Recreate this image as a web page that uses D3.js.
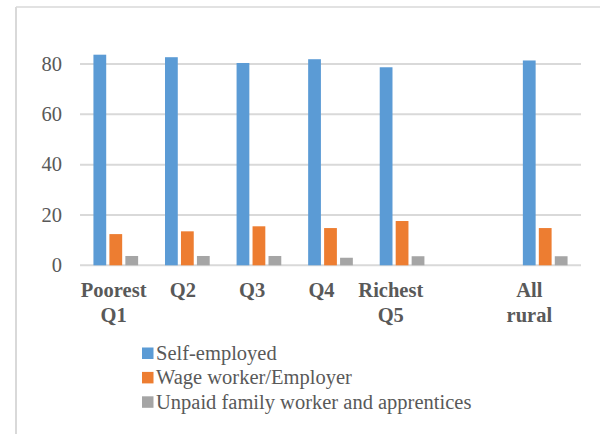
<!DOCTYPE html>
<html>
<head>
<meta charset="utf-8">
<script src="https://cdn.jsdelivr.net/npm/d3@7"></script>
<style>
  html, body { margin: 0; padding: 0; background: #fff; }
  svg { display: block; }
</style>
</head>
<body>
<svg id="chart" width="600" height="434"></svg>
<script>
// Employment status by wealth quintile (rural), percent
const categories = ["q1", "q2", "q3", "q4", "q5", "gap", "all"];
const categoryLabels = [["Poorest", "Q1"], ["Q2"], ["Q3"], ["Q4"], ["Richest", "Q5"], [], ["All", "rural"]];
const seriesNames = ["Self-employed", "Wage worker/Employer", "Unpaid family worker and apprentices"];
const selfEmployed = [83.7, 82.7, 80.4, 81.9, 78.7, null, 81.4];
const wageWorker   = [12.4, 13.5, 15.5, 14.8, 17.6, null, 14.8];
const unpaidFamily = [3.7, 3.7, 3.7, 3.0, 3.6, null, 3.6];
const yTicks = [0, 20, 40, 60, 80];
const colors = ["#5B9BD5", "#ED7D31", "#A5A5A5"];

const seriesValues = [selfEmployed, wageWorker, unpaidFamily];
const FONT = '"Liberation Serif", "Times New Roman", serif';
const FONT_SIZE = "20.5px";

const svg = d3.select("#chart");

// Chart frame (left and top edges)
svg.append("line").attr("x1", 16).attr("x2", 16).attr("y1", 7).attr("y2", 434)
  .attr("stroke", "#D9D9D9").attr("stroke-width", 2);
svg.append("line").attr("x1", 16).attr("x2", 600).attr("y1", 7).attr("y2", 7)
  .attr("stroke", "#D9D9D9").attr("stroke-width", 1.5);

const plot = { left: 80, right: 581, top: 64, bottom: 265.3 };

const x = d3.scaleBand().domain(categories).range([plot.left, plot.right])
  .paddingInner(0).paddingOuter(0);
const y = d3.scaleLinear().domain([0, 80]).range([plot.bottom, plot.top]);

// Category labels sit on a slightly narrower axis
const xLabel = d3.scaleBand().domain(categories).range([79, 564]);

// Gridlines
svg.append("g").selectAll("line").data(yTicks).join("line")
  .attr("x1", plot.left).attr("x2", plot.right)
  .attr("y1", d => y(d)).attr("y2", d => y(d))
  .attr("stroke", "#D9D9D9").attr("stroke-width", 2);

// Y tick labels
svg.append("g").selectAll("text").data(yTicks).join("text")
  .attr("x", 62).attr("y", d => y(d)).attr("dy", "0.33em")
  .attr("text-anchor", "end")
  .style("font-family", FONT).style("font-size", FONT_SIZE).style("fill", "#595959")
  .text(d => d);

// Bars
const groupWidth = 44.7;
const xSub = d3.scaleBand().domain(d3.range(seriesNames.length))
  .range([-groupWidth / 2, groupWidth / 2]).paddingInner(0.2).paddingOuter(0);

const barData = [];
categories.forEach((c, i) => {
  seriesValues.forEach((vals, s) => {
    if (vals[i] != null) barData.push({ c, s, v: vals[i] });
  });
});

svg.append("g").selectAll("rect").data(barData).join("rect")
  .attr("x", d => x(d.c) + x.bandwidth() / 2 + xSub(d.s))
  .attr("width", xSub.bandwidth())
  .attr("y", d => y(d.v))
  .attr("height", d => y(0) - y(d.v))
  .attr("fill", d => colors[d.s]);

// Category labels (bold, up to two lines)
const catG = svg.append("g");
categories.forEach((c, i) => {
  const cx = xLabel(c) + xLabel.bandwidth() / 2;
  const t = catG.append("text")
    .attr("x", cx).attr("y", 297)
    .attr("text-anchor", "middle")
    .style("font-family", FONT).style("font-size", FONT_SIZE)
    .style("font-weight", "bold").style("fill", "#595959");
  categoryLabels[i].forEach((line, k) => {
    t.append("tspan").attr("x", cx).attr("y", 297 + k * 25).text(line);
  });
});

// Legend
const legend = svg.append("g");
seriesNames.forEach((name, i) => {
  const base = 360 + i * 24.4;
  legend.append("rect").attr("x", 142).attr("y", base - 12.5)
    .attr("width", 11.5).attr("height", 11.5).attr("fill", colors[i]);
  legend.append("text").attr("x", 156).attr("y", base)
    .style("font-family", FONT).style("font-size", FONT_SIZE).style("fill", "#595959")
    .text(name);
});
</script>
</body>
</html>
